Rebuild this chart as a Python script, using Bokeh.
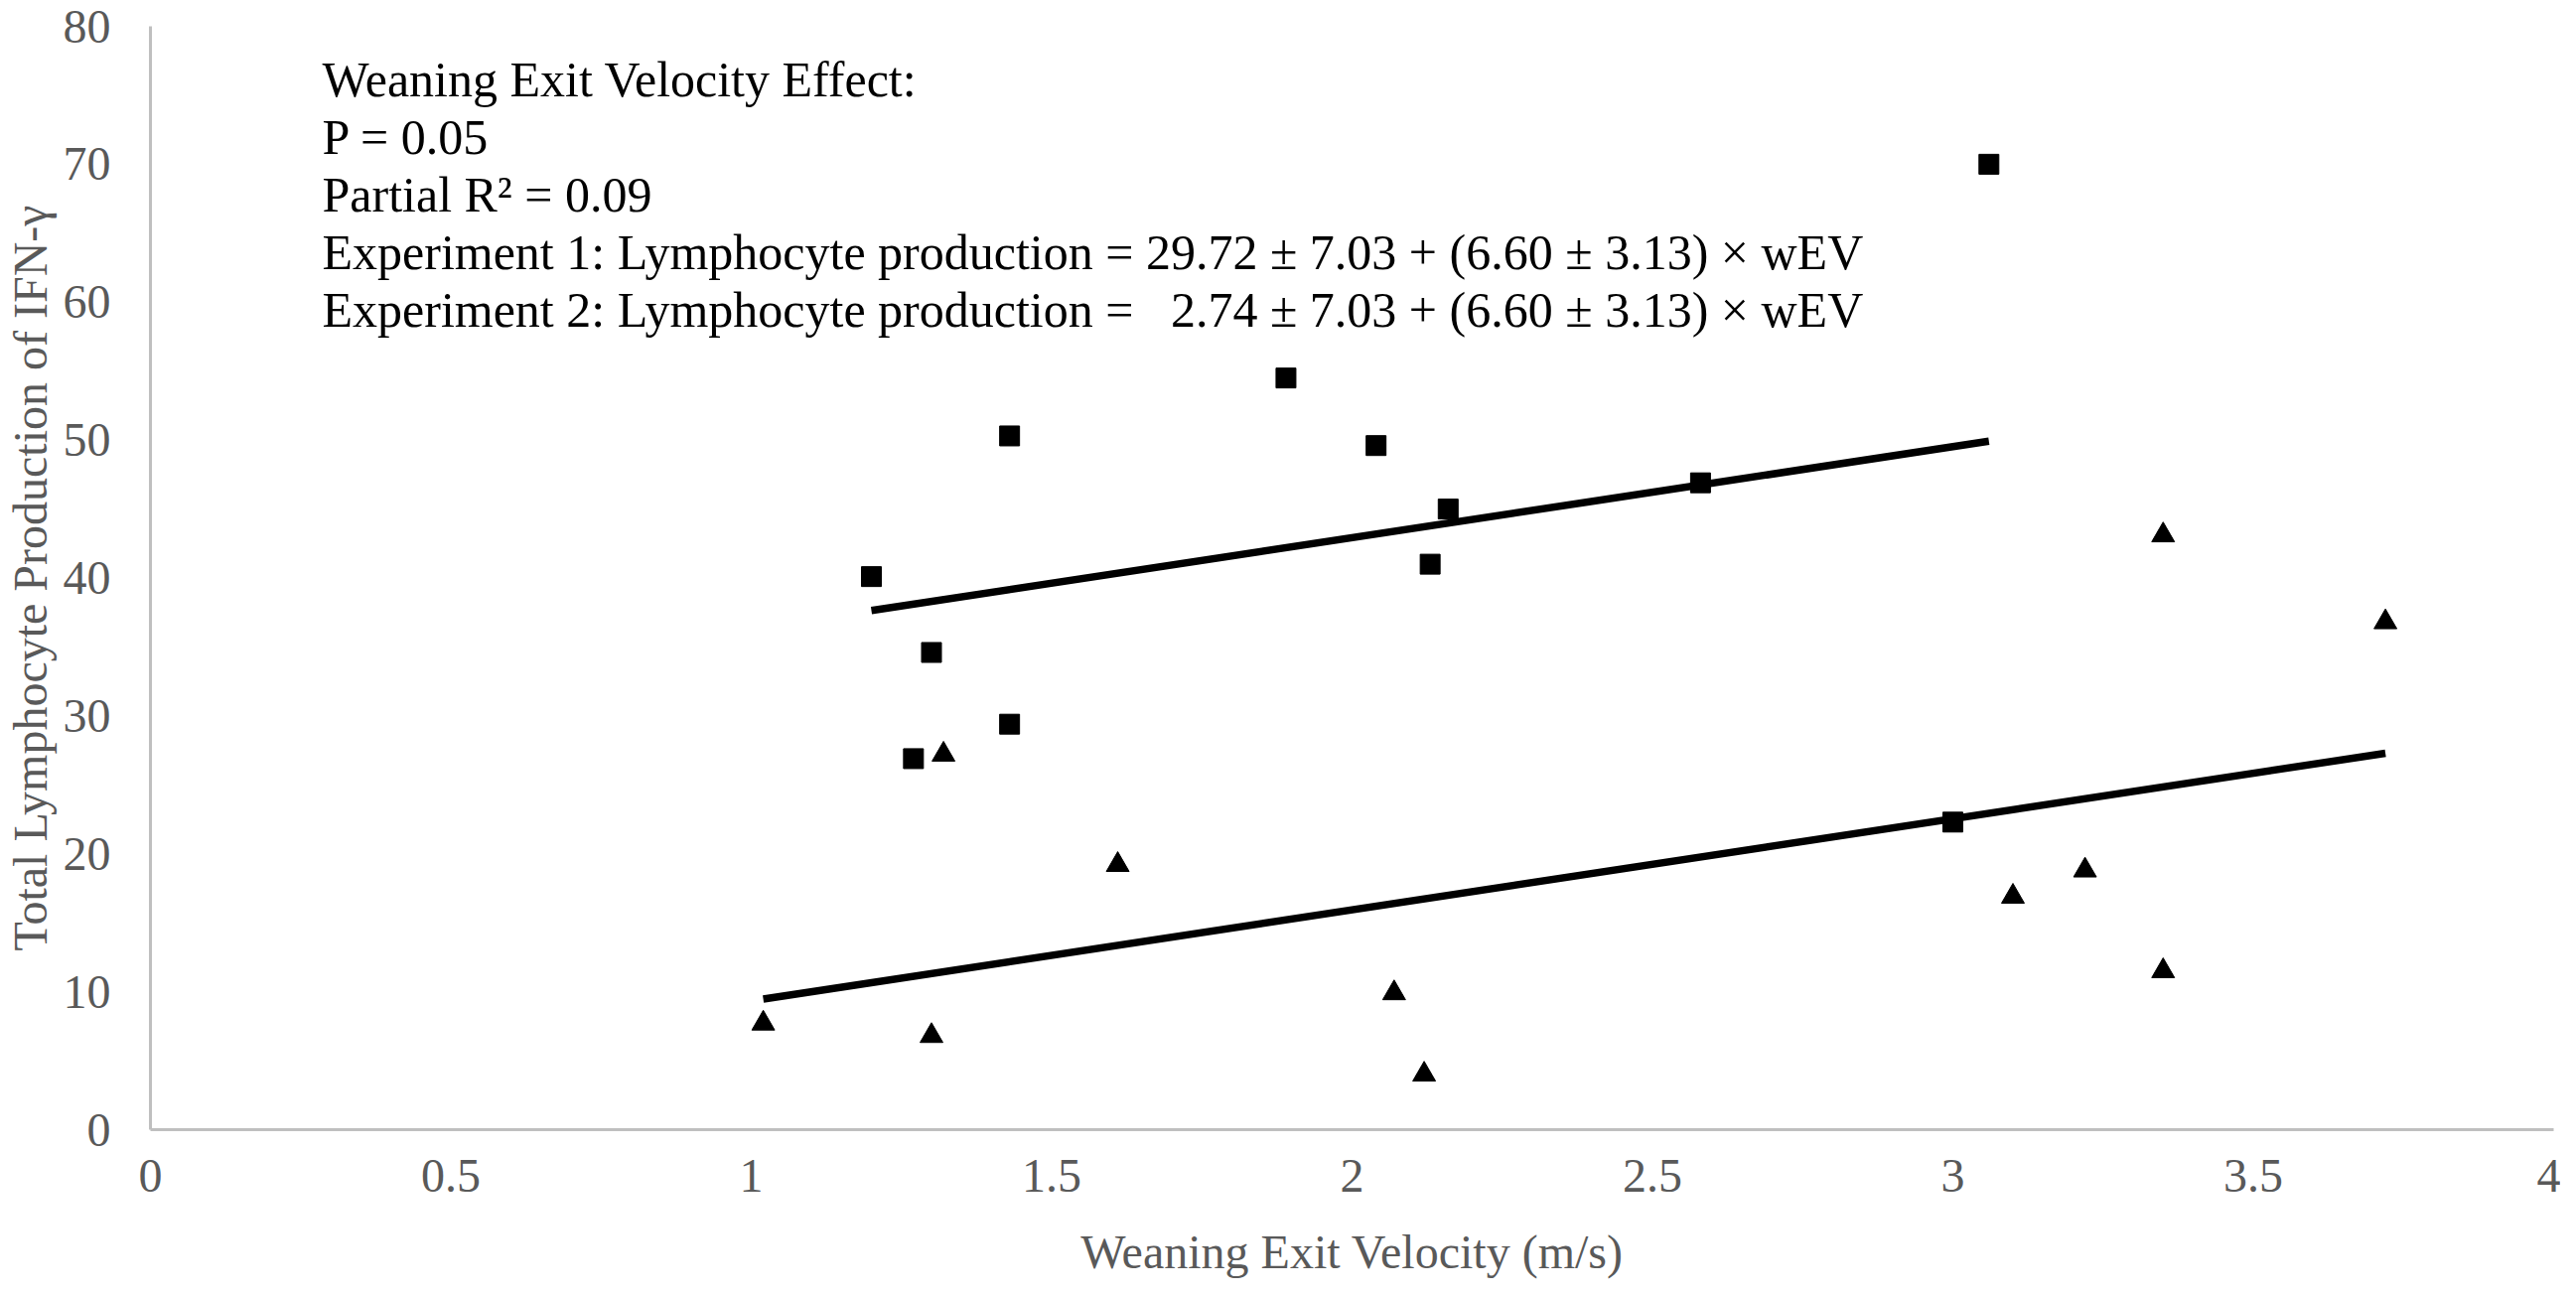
from bokeh.plotting import figure
from bokeh.models import Range1d, FixedTicker, Label
from bokeh.embed import file_html
from bokeh.resources import INLINE

# ---- data ----
exp1_x = [3.06, 1.89, 1.43, 2.04, 2.16, 2.58, 1.20, 2.13, 1.30, 1.43, 1.27, 3.00]
exp1_y = [70.0, 54.5, 50.3, 49.6, 45.0, 46.9, 40.1, 41.0, 34.6, 29.4, 26.9, 22.3]
exp2_x = [1.02, 1.30, 1.32, 1.61, 2.07, 2.12, 3.10, 3.22, 3.35, 3.35, 3.72]
exp2_y = [7.7, 6.8, 27.2, 19.2, 9.9, 4.0, 16.9, 18.8, 43.1, 11.5, 36.8]

intercept1 = 29.72
intercept2 = 2.74
slope = 6.60

x_ticks = [0, 0.5, 1, 1.5, 2, 2.5, 3, 3.5, 4]
x_tick_labels = ["0", "0.5", "1", "1.5", "2", "2.5", "3", "3.5", "4"]
y_ticks = [0, 10, 20, 30, 40, 50, 60, 70, 80]
y_tick_labels = ["0", "10", "20", "30", "40", "50", "60", "70", "80"]

x_title = "Weaning Exit Velocity (m/s)"
y_title = "Total Lymphocyte Production of IFN-\u03b3"
notes = [
    "Weaning Exit Velocity Effect:",
    "P = 0.05",
    "Partial R\u00b2 = 0.09",
    "Experiment 1: Lymphocyte production = 29.72 \u00b1 7.03 + (6.60 \u00b1 3.13) \u00d7 wEV",
    "Experiment 2: Lymphocyte production = \u00a0\u00a02.74 \u00b1 7.03 + (6.60 \u00b1 3.13) \u00d7 wEV",
]

FONT = "Liberation Serif"
GRAY = "#595959"
AXIS_GRAY = "#bfbfbf"

W, H = 2578, 1289
ML, MR, MT, MB = 147, 7, 26, 150
frame_w = W - ML - MR
frame_h = H - MT - MB

p = figure(width=W, height=H, output_backend="svg", toolbar_location=None,
           x_range=Range1d(0, 4), y_range=Range1d(0, 80),
           min_border_left=ML, min_border_right=MR,
           min_border_top=MT, min_border_bottom=MB)
p.outline_line_color = None
p.background_fill_color = "white"
p.border_fill_color = "white"
p.xgrid.visible = False
p.ygrid.visible = False

for ax, ticks, labels in ((p.xaxis, x_ticks, x_tick_labels), (p.yaxis, y_ticks, y_tick_labels)):
    ax.ticker = FixedTicker(ticks=ticks)
    ax.major_label_overrides = {t: l for t, l in zip(ticks, labels)}
    ax.axis_line_color = AXIS_GRAY
    ax.axis_line_width = 3
    ax.major_tick_line_color = None
    ax.minor_tick_line_color = None
    ax.major_tick_out = 0
    ax.major_tick_in = 0
    ax.major_label_text_font = FONT
    ax.major_label_text_font_size = "48px"
    ax.major_label_text_color = GRAY
    ax.axis_label_text_font = FONT
    ax.axis_label_text_font_size = "48px"
    ax.axis_label_text_font_style = "normal"
    ax.axis_label_text_color = GRAY

p.xaxis.axis_label = x_title
p.yaxis.axis_label = y_title
p.xaxis.major_label_standoff = 30
p.yaxis.major_label_standoff = 40
p.xaxis.axis_label_standoff = 31
p.yaxis.axis_label_standoff = 4

# regression lines
x1 = [min(exp1_x), max(exp1_x)]
x2 = [min(exp2_x), max(exp2_x)]
p.line(x1, [intercept1 + slope * v for v in x1], line_color="black", line_width=7.5)
p.line(x2, [intercept2 + slope * v for v in x2], line_color="black", line_width=7.5)

# points
p.scatter(exp1_x, exp1_y, marker="square", size=20, fill_color="black", line_color="black")
p.scatter(exp2_x, exp2_y, marker="triangle", size=23, fill_color="black", line_color="black")

# annotation text (baselines measured from the frame bottom)
bottom_page = MT + frame_h + 8
for i, t in enumerate(notes):
    p.add_layout(Label(x=173, y=bottom_page - 89 - 58 * i, x_units="screen", y_units="screen",
                       text=t, text_font=FONT, text_font_size="50px",
                       text_color="black", text_align="left", text_baseline="alphabetic"))

open("out.html", "w").write(file_html(p, INLINE))
